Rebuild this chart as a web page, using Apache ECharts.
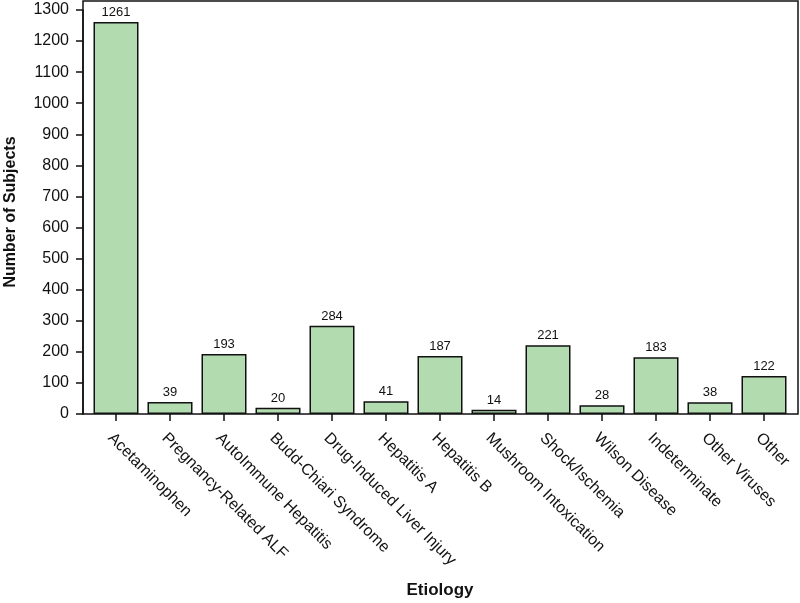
<!DOCTYPE html>
<html>
<head>
<meta charset="utf-8">
<script src="https://cdn.jsdelivr.net/npm/echarts@6/dist/echarts.min.js"></script>
<style>html,body{margin:0;padding:0;background:#fff;}#c{width:800px;height:603px;}</style>
</head>
<body>
<div id="c"></div>
<script>
const categories = ["Acetaminophen","Pregnancy-Related ALF","AutoImmune Hepatitis","Budd-Chiari Syndrome","Drug-Induced Liver Injury","Hepatitis A","Hepatitis B","Mushroom Intoxication","Shock/Ischemia","Wilson Disease","Indeterminate","Other Viruses","Other"];
const subjects = [1261,39,193,20,284,41,187,14,221,28,183,38,122];
const yTicks = {min:0, max:1300, interval:100};

const font = "'Liberation Sans', Arial, Helvetica, sans-serif";
const chart = echarts.init(document.getElementById('c'));
chart.setOption({
  animation:false,
  backgroundColor:'#fff',
  grid:[
    {left:83, right:2, top:1, bottom:189, show:true, borderColor:'#111', borderWidth:1.5, backgroundColor:'transparent', containLabel:false, outerBoundsMode:'none'},
    {left:89, right:9, top:10, bottom:189, containLabel:false, outerBoundsMode:'none'}
  ],
  xAxis:[
    {gridIndex:0, type:'value', show:false},
    {gridIndex:1, type:'category', data:categories, boundaryGap:true,
     axisLine:{show:false},
     axisTick:{show:true, alignWithLabel:true, length:7, lineStyle:{color:'#111', width:1.5}},
     axisLabel:{rotate:-45, interval:0, margin:16, verticalAlign:'top', fontSize:16, color:'#111', fontFamily:font},
     name:'Etiology', nameLocation:'middle', nameGap:168,
     nameTextStyle:{fontSize:17, fontWeight:'bold', color:'#111', fontFamily:font}}
  ],
  yAxis:[
    {gridIndex:0, type:'value', show:false},
    {gridIndex:1, type:'value', min:yTicks.min, max:yTicks.max, interval:yTicks.interval, offset:6,
     splitLine:{show:false},
     axisLine:{show:true, lineStyle:{color:'#111', width:1.5}},
     axisTick:{show:true, length:7, lineStyle:{color:'#111', width:1.5}},
     axisLabel:{fontSize:16, margin:14, color:'#111', fontFamily:font, formatter:function(v){return String(v);}},
     name:'Number of Subjects', nameLocation:'middle', nameGap:64,
     nameTextStyle:{fontSize:16, fontWeight:'bold', color:'#111', fontFamily:font}}
  ],
  series:[{
    type:'bar', xAxisIndex:1, yAxisIndex:1, data:subjects, barWidth:45,
    itemStyle:{color:'#b2dbb0', borderColor:'#111', borderWidth:1.5},
    label:{show:true, position:'top', distance:3, fontSize:13, color:'#111', fontFamily:font}
  }]
});
</script>
</body>
</html>
